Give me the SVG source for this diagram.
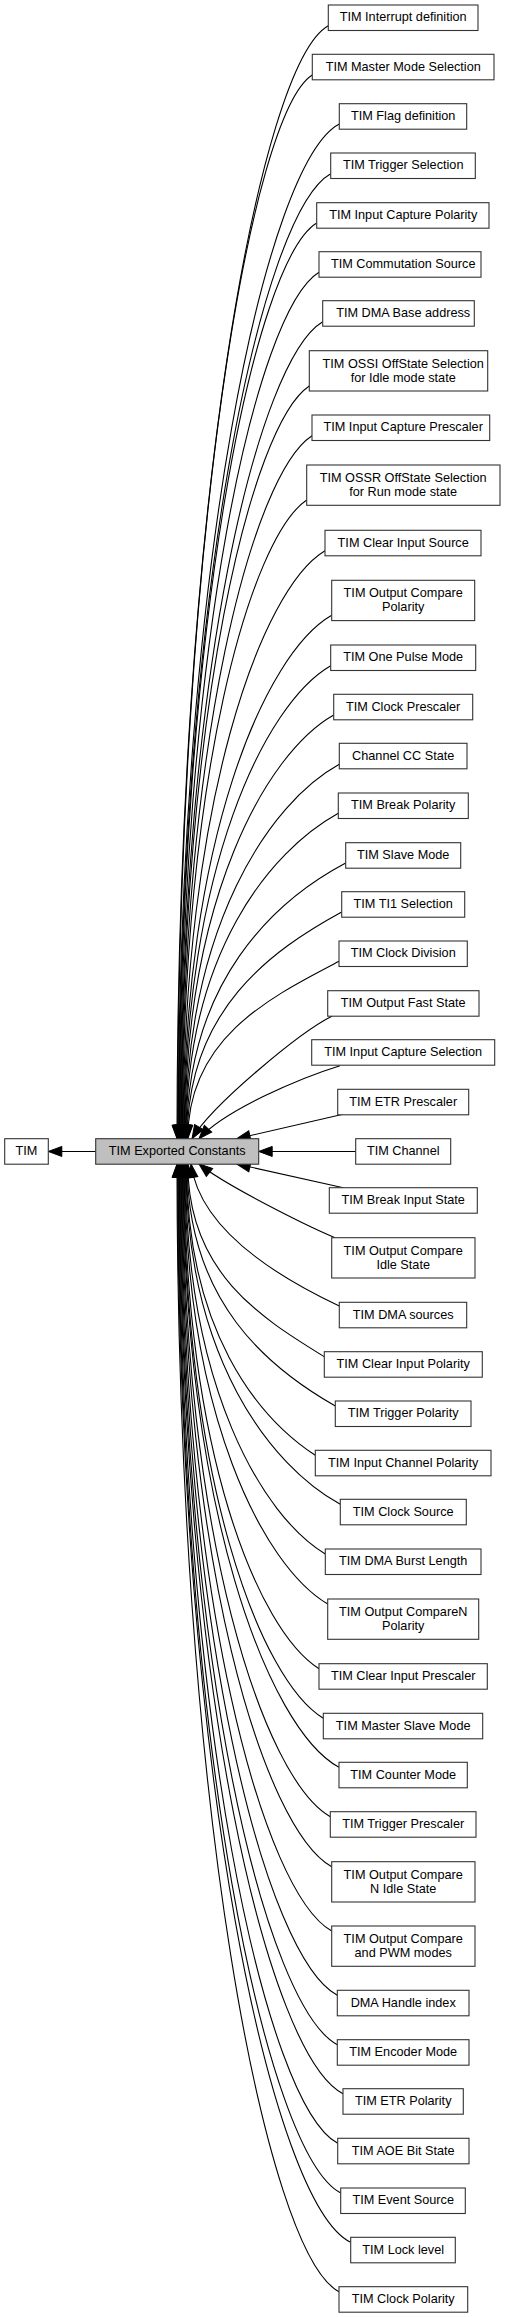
<svg xmlns="http://www.w3.org/2000/svg" width="505" height="2317" viewBox="0 0 505 2317">
<style>
.n rect{fill:#fff;stroke:#333;stroke-width:1.1}
.n.c rect{fill:#bfbfbf}
.n text{font-family:"Liberation Sans",Arial,sans-serif;font-size:12.7px;fill:#000;text-anchor:middle}
#edges path{fill:none;stroke:#000;stroke-width:1.1;marker-end:url(#ah)}
</style>
<defs>
<marker id="ah" markerUnits="userSpaceOnUse" markerWidth="15" markerHeight="11" refX="14" refY="5.5" orient="auto" overflow="visible">
<path d="M0.5,0.5 L14,5.5 L0.5,10.5 z" fill="#000" stroke="#000" stroke-width="1"/>
</marker>
</defs>
<rect width="505" height="2317" fill="#fff"/>
<g id="edges">
<path d="M95.7,1151.45 L48.3,1151.45"/>
<path d="M355.7,1151.45 L258.7,1151.45"/>
<path d="M328.3,25.7 C260.2,63.7 177,504.3 177,1138.7"/>
<path d="M312.3,75 C251.7,113 177.6,532.4 177.6,1138.7"/>
<path d="M339.3,124 C266.8,162 178.2,560.3 178.2,1138.7"/>
<path d="M330.7,173.7 C262.3,211.7 178.8,588.6 178.8,1138.7"/>
<path d="M316.7,223 C254.9,261 179.4,616.8 179.4,1138.7"/>
<path d="M319,272.3 C256.5,310.3 180,644.9 180,1138.7"/>
<path d="M322.7,321.7 C258.8,359.7 180.6,673 180.6,1138.7"/>
<path d="M309.3,386 C251.7,424 181.2,709.7 181.2,1138.7"/>
<path d="M312,435.7 C253.4,473.7 181.8,738 181.8,1138.7"/>
<path d="M306.7,500 C250.8,538 182.4,774.7 182.4,1138.7"/>
<path d="M325,550.7 C261.1,588.7 183,803.5 183,1138.7"/>
<path d="M331.7,615.3 C265.1,653.3 183.6,840.4 183.6,1138.7"/>
<path d="M330.7,665.7 C264.8,703.7 184.2,869.1 184.2,1138.7"/>
<path d="M333.7,715 C266.7,753 184.8,897.2 184.8,1138.7"/>
<path d="M339.3,764.3 C270,802.3 185.4,925.3 185.4,1138.7"/>
<path d="M338.3,813.3 C269.8,851.3 186,953.2 186,1138.7"/>
<path d="M345.7,863 C274.1,901 186.6,981.6 186.6,1138.7"/>
<path d="M341.7,912 C272.2,950 187.2,1009.5 187.2,1138.7"/>
<path d="M339,961.3 C271,996.8 187.8,1037.6 187.8,1138.7"/>
<path d="M332.3,1016 C300,1032 212,1105 192,1138.7"/>
<path d="M340,1065.7 C300,1078 225,1110 199,1138.7"/>
<path d="M343,1114.3 L236.7,1138.7"/>
<path d="M343.3,1187.7 L236.7,1164"/>
<path d="M335,1237.7 C305,1225 225,1185 199,1164"/>
<path d="M339.3,1306 C280,1278 200,1230 191,1164"/>
<path d="M324.3,1356.7 C262.9,1318.7 187.8,1273.8 187.8,1164"/>
<path d="M335.3,1406 C268.7,1368 187.2,1301.9 187.2,1164"/>
<path d="M315.3,1455.3 C257.4,1417.3 186.6,1330 186.6,1164"/>
<path d="M340.3,1504.3 C270.9,1466.3 186,1358 186,1164"/>
<path d="M325.3,1554 C262.3,1516 185.4,1386.3 185.4,1164"/>
<path d="M327.7,1604 C263.4,1566 184.8,1414.8 184.8,1164"/>
<path d="M319,1668.7 C258.3,1630.7 184.2,1451.7 184.2,1164"/>
<path d="M323.3,1718.3 C260.4,1680.3 183.6,1480 183.6,1164"/>
<path d="M339,1767.3 C268.8,1729.3 183,1507.9 183,1164"/>
<path d="M330.3,1816.7 C263.7,1778.7 182.4,1536 182.4,1164"/>
<path d="M331.7,1866.7 C264.2,1828.7 181.8,1564.5 181.8,1164"/>
<path d="M331.7,1931 C264,1893 181.2,1601.2 181.2,1164"/>
<path d="M337.3,1995.3 C266.8,1957.3 180.6,1637.8 180.6,1164"/>
<path d="M337.3,2044.7 C266.5,2006.7 180,1666 180,1164"/>
<path d="M343,2093.7 C269.4,2055.7 179.4,1693.9 179.4,1164"/>
<path d="M337.7,2143.3 C266.2,2105.3 178.8,1722.2 178.8,1164"/>
<path d="M340.7,2193 C267.6,2155 178.2,1750.5 178.2,1164"/>
<path d="M350.7,2242.3 C272.8,2204.3 177.6,1778.6 177.6,1164"/>
<path d="M339,2291.7 C266.1,2253.7 177,1806.8 177,1164"/>
</g>
<g id="tim" class="n"><rect x="4.7" y="1138.7" width="43.6" height="25.5"/><text x="26.5" y="1154.95">TIM</text></g>
<g id="exported" class="n c"><rect x="95.7" y="1138.7" width="163" height="25.5"/><text x="177.2" y="1154.95">TIM Exported Constants</text></g>
<g id="channel" class="n"><rect x="355.7" y="1138.7" width="95" height="25.5"/><text x="403.2" y="1154.95">TIM Channel</text></g>
<g id="n1" class="n"><rect x="328.3" y="5" width="149.7" height="25.5"/><text x="403.2" y="21.25">TIM Interrupt definition</text></g>
<g id="n2" class="n"><rect x="312.3" y="54.3" width="181.7" height="25.5"/><text x="403.2" y="70.55">TIM Master Mode Selection</text></g>
<g id="n3" class="n"><rect x="339.3" y="103.7" width="127.4" height="25.5"/><text x="403.2" y="119.95">TIM Flag definition</text></g>
<g id="n4" class="n"><rect x="330.7" y="153" width="144.6" height="25.5"/><text x="403.2" y="169.25">TIM Trigger Selection</text></g>
<g id="n5" class="n"><rect x="316.7" y="202.7" width="172.3" height="25.5"/><text x="403.2" y="218.95">TIM Input Capture Polarity</text></g>
<g id="n6" class="n"><rect x="319" y="251.7" width="162" height="25.5"/><text x="403.2" y="267.95">TIM Commutation Source</text></g>
<g id="n7" class="n"><rect x="322.7" y="300.7" width="151.6" height="25.5"/><text x="403.2" y="316.95">TIM DMA Base address</text></g>
<g id="n8" class="n"><rect x="309.3" y="350.7" width="178.4" height="40.3"/><text x="403.2" y="367.55">TIM OSSI OffState Selection</text><text x="403.2" y="381.55">for Idle mode state</text></g>
<g id="n9" class="n"><rect x="312" y="415" width="177.7" height="25.5"/><text x="403.2" y="431.25">TIM Input Capture Prescaler</text></g>
<g id="n10" class="n"><rect x="306.7" y="465" width="193.3" height="40.3"/><text x="403.2" y="481.85">TIM OSSR OffState Selection</text><text x="403.2" y="495.85">for Run mode state</text></g>
<g id="n11" class="n"><rect x="325" y="530.3" width="156" height="25.5"/><text x="403.2" y="546.55">TIM Clear Input Source</text></g>
<g id="n12" class="n"><rect x="331.7" y="580.3" width="143" height="40.3"/><text x="403.2" y="597.15">TIM Output Compare</text><text x="403.2" y="611.15">Polarity</text></g>
<g id="n13" class="n"><rect x="330.7" y="645" width="145" height="25.5"/><text x="403.2" y="661.25">TIM One Pulse Mode</text></g>
<g id="n14" class="n"><rect x="333.7" y="694.3" width="139" height="25.5"/><text x="403.2" y="710.55">TIM Clock Prescaler</text></g>
<g id="n15" class="n"><rect x="339.3" y="743.3" width="127.7" height="25.5"/><text x="403.2" y="759.55">Channel CC State</text></g>
<g id="n16" class="n"><rect x="338.3" y="793" width="130" height="25.5"/><text x="403.2" y="809.25">TIM Break Polarity</text></g>
<g id="n17" class="n"><rect x="345.7" y="842.7" width="115" height="25.5"/><text x="403.2" y="858.95">TIM Slave Mode</text></g>
<g id="n18" class="n"><rect x="341.7" y="891.7" width="123" height="25.5"/><text x="403.2" y="907.95">TIM TI1 Selection</text></g>
<g id="n19" class="n"><rect x="339" y="941" width="128.3" height="25.5"/><text x="403.2" y="957.25">TIM Clock Division</text></g>
<g id="n20" class="n"><rect x="327.7" y="990.7" width="151.3" height="25.5"/><text x="403.2" y="1006.95">TIM Output Fast State</text></g>
<g id="n21" class="n"><rect x="311.7" y="1039.7" width="183" height="25.5"/><text x="403.2" y="1055.95">TIM Input Capture Selection</text></g>
<g id="n22" class="n"><rect x="337.7" y="1089.3" width="131" height="25.5"/><text x="403.2" y="1105.55">TIM ETR Prescaler</text></g>
<g id="n23" class="n"><rect x="329.3" y="1187.7" width="148" height="25.5"/><text x="403.2" y="1203.95">TIM Break Input State</text></g>
<g id="n24" class="n"><rect x="331.7" y="1237.7" width="143.3" height="40.3"/><text x="403.2" y="1254.55">TIM Output Compare</text><text x="403.2" y="1268.55">Idle State</text></g>
<g id="n25" class="n"><rect x="339.3" y="1302.3" width="127.4" height="25.5"/><text x="403.2" y="1318.55">TIM DMA sources</text></g>
<g id="n26" class="n"><rect x="324.3" y="1351.7" width="158" height="25.5"/><text x="403.2" y="1367.95">TIM Clear Input Polarity</text></g>
<g id="n27" class="n"><rect x="335.3" y="1401" width="135.7" height="25.5"/><text x="403.2" y="1417.25">TIM Trigger Polarity</text></g>
<g id="n28" class="n"><rect x="315.3" y="1450.3" width="175.7" height="25.5"/><text x="403.2" y="1466.55">TIM Input Channel Polarity</text></g>
<g id="n29" class="n"><rect x="340.3" y="1499.3" width="126" height="25.5"/><text x="403.2" y="1515.55">TIM Clock Source</text></g>
<g id="n30" class="n"><rect x="325.3" y="1549" width="155.7" height="25.5"/><text x="403.2" y="1565.25">TIM DMA Burst Length</text></g>
<g id="n31" class="n"><rect x="327.7" y="1599" width="151" height="40.3"/><text x="403.2" y="1615.85">TIM Output CompareN</text><text x="403.2" y="1629.85">Polarity</text></g>
<g id="n32" class="n"><rect x="319" y="1663.7" width="168.3" height="25.5"/><text x="403.2" y="1679.95">TIM Clear Input Prescaler</text></g>
<g id="n33" class="n"><rect x="323.3" y="1713.3" width="159.4" height="25.5"/><text x="403.2" y="1729.55">TIM Master Slave Mode</text></g>
<g id="n34" class="n"><rect x="339" y="1762.3" width="128.3" height="25.5"/><text x="403.2" y="1778.55">TIM Counter Mode</text></g>
<g id="n35" class="n"><rect x="330.3" y="1811.7" width="145.7" height="25.5"/><text x="403.2" y="1827.95">TIM Trigger Prescaler</text></g>
<g id="n36" class="n"><rect x="331.7" y="1861.7" width="143.3" height="40.3"/><text x="403.2" y="1878.55">TIM Output Compare</text><text x="403.2" y="1892.55">N Idle State</text></g>
<g id="n37" class="n"><rect x="331.7" y="1926" width="143.3" height="40.3"/><text x="403.2" y="1942.85">TIM Output Compare</text><text x="403.2" y="1956.85">and PWM modes</text></g>
<g id="n38" class="n"><rect x="337.3" y="1990.3" width="131.7" height="25.5"/><text x="403.2" y="2006.55">DMA Handle index</text></g>
<g id="n39" class="n"><rect x="337.3" y="2039.7" width="131.7" height="25.5"/><text x="403.2" y="2055.95">TIM Encoder Mode</text></g>
<g id="n40" class="n"><rect x="343" y="2088.7" width="120.3" height="25.5"/><text x="403.2" y="2104.95">TIM ETR Polarity</text></g>
<g id="n41" class="n"><rect x="337.7" y="2138.3" width="131.3" height="25.5"/><text x="403.2" y="2154.55">TIM AOE Bit State</text></g>
<g id="n42" class="n"><rect x="340.7" y="2188" width="124.6" height="25.5"/><text x="403.2" y="2204.25">TIM Event Source</text></g>
<g id="n43" class="n"><rect x="350.7" y="2237.3" width="104.6" height="25.5"/><text x="403.2" y="2253.55">TIM Lock level</text></g>
<g id="n44" class="n"><rect x="339" y="2286.7" width="128.7" height="25.5"/><text x="403.2" y="2302.95">TIM Clock Polarity</text></g>
</svg>
